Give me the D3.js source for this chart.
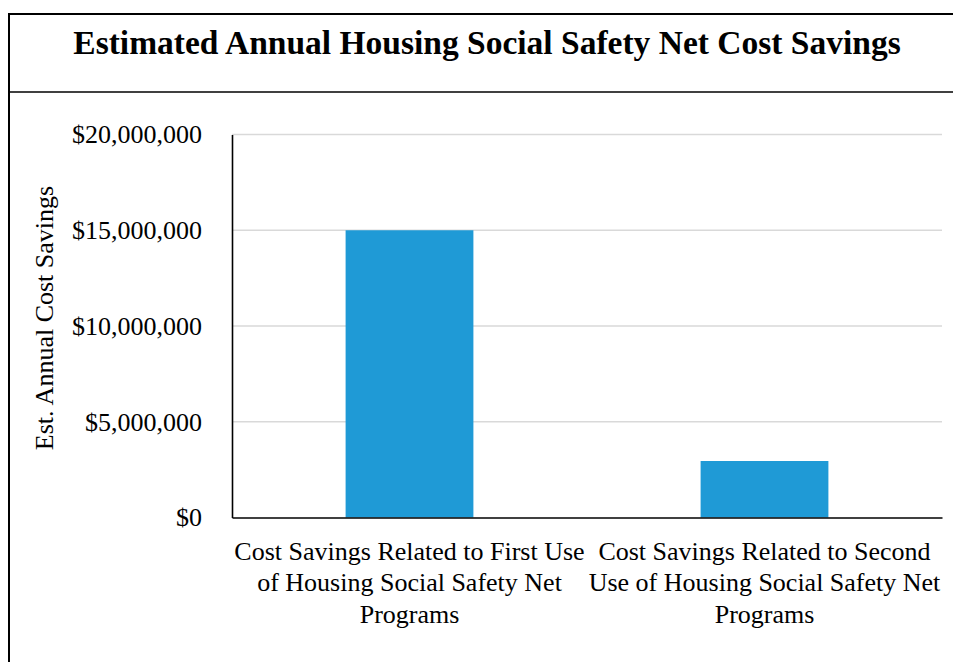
<!DOCTYPE html>
<html>
<head>
<meta charset="utf-8">
<script src="https://cdn.jsdelivr.net/npm/d3@7"></script>
<style>
  body { margin: 0; background: #fff; }
  svg { display: block; }
  .tick text { font-family: "Liberation Serif", serif; }
</style>
</head>
<body>
<svg id="chart"></svg>
<script>
// data
var categories = ["first", "second"];
var categoryLines = [
    ["Cost Savings Related to First Use", "of Housing Social Safety Net", "Programs"],
    ["Cost Savings Related to Second", "Use of Housing Social Safety Net", "Programs"]
];
var savings = [15000000, 2950000];
var yTicks = [0, 5000000, 10000000, 15000000, 20000000];

var screen = { width: 953, height: 662 };
var margins = { left: 232, right: 11, top: 134.5, bottom: 144.5 };

var graph = {
    width: screen.width - margins.left - margins.right,
    height: screen.height - margins.top - margins.bottom
};

var svg = d3.select("#chart")
    .attr("width", screen.width)
    .attr("height", screen.height);

// outer frame and title box
svg.append("rect")
    .attr("x", 9)
    .attr("y", 14)
    .attr("width", 980)
    .attr("height", 700)
    .attr("fill", "none")
    .attr("stroke", "#000")
    .attr("stroke-width", 2);

svg.append("line")
    .attr("x1", 9).attr("x2", screen.width)
    .attr("y1", 92).attr("y2", 92)
    .attr("stroke", "#000")
    .attr("stroke-width", 1.3);

svg.append("text")
    .text("Estimated Annual Housing Social Safety Net Cost Savings")
    .attr("x", 487)
    .attr("y", 54)
    .attr("text-anchor", "middle")
    .attr("font-family", "Liberation Serif, serif")
    .attr("font-weight", "bold")
    .attr("font-size", 33.5);

var xScale = d3.scaleBand()
    .domain(categories)
    .range([0, graph.width])
    .paddingInner(0.64)
    .paddingOuter(0.32);

var yScale = d3.scaleLinear()
    .domain([0, 20000000])
    .range([graph.height, 0]);

var target = svg.append("g")
    .attr("transform", "translate(" + margins.left + "," + margins.top + ")");

// gridlines
target.append("g")
    .selectAll("line")
    .data(yTicks.slice(1))
    .enter()
    .append("line")
    .attr("x1", 0)
    .attr("x2", graph.width)
    .attr("y1", function (d) { return yScale(d); })
    .attr("y2", function (d) { return yScale(d); })
    .attr("stroke", "#d9d9d9")
    .attr("stroke-width", 1.3);

// bars
target.append("g")
    .selectAll("rect")
    .data(savings)
    .enter()
    .append("rect")
    .attr("x", function (d, i) { return xScale(categories[i]); })
    .attr("y", function (d) { return yScale(d); })
    .attr("width", xScale.bandwidth())
    .attr("height", function (d) { return graph.height - yScale(d); })
    .attr("fill", "#1f9ad6");

// y axis
var yAxis = d3.axisLeft(yScale)
    .tickValues(yTicks)
    .tickSize(0)
    .tickPadding(30)
    .tickFormat(function (d) { return "$" + d3.format(",")(d); });

var yG = target.append("g").call(yAxis);
yG.select(".domain").attr("stroke", "#000").attr("stroke-width", 1.6);
yG.attr("font-size", 26);
yG.selectAll(".tick text")
    .attr("font-size", 26)
    .attr("fill", "#000");

// x axis
var xAxis = d3.axisBottom(xScale)
    .tickSize(0)
    .tickFormat("");

var xG = target.append("g")
    .attr("transform", "translate(0," + graph.height + ")")
    .call(xAxis);
xG.select(".domain").attr("stroke", "#000").attr("stroke-width", 1.6);

// category labels, one tspan per line
xG.selectAll(".tick").each(function (d, i) {
    var t = d3.select(this).append("text")
        .attr("fill", "#000")
        .attr("font-size", 26)
        .attr("text-anchor", "middle")
        .attr("y", 42);
    t.selectAll("tspan")
        .data(categoryLines[i])
        .enter()
        .append("tspan")
        .attr("x", 0)
        .attr("dy", function (l, j) { return j == 0 ? 0 : 31.5; })
        .text(function (l) { return l; });
});

// y axis title
svg.append("text")
    .text("Est. Annual Cost Savings")
    .attr("transform", "translate(53,318) rotate(-90)")
    .attr("text-anchor", "middle")
    .attr("font-family", "Liberation Serif, serif")
    .attr("font-size", 26);
</script>
</body>
</html>
